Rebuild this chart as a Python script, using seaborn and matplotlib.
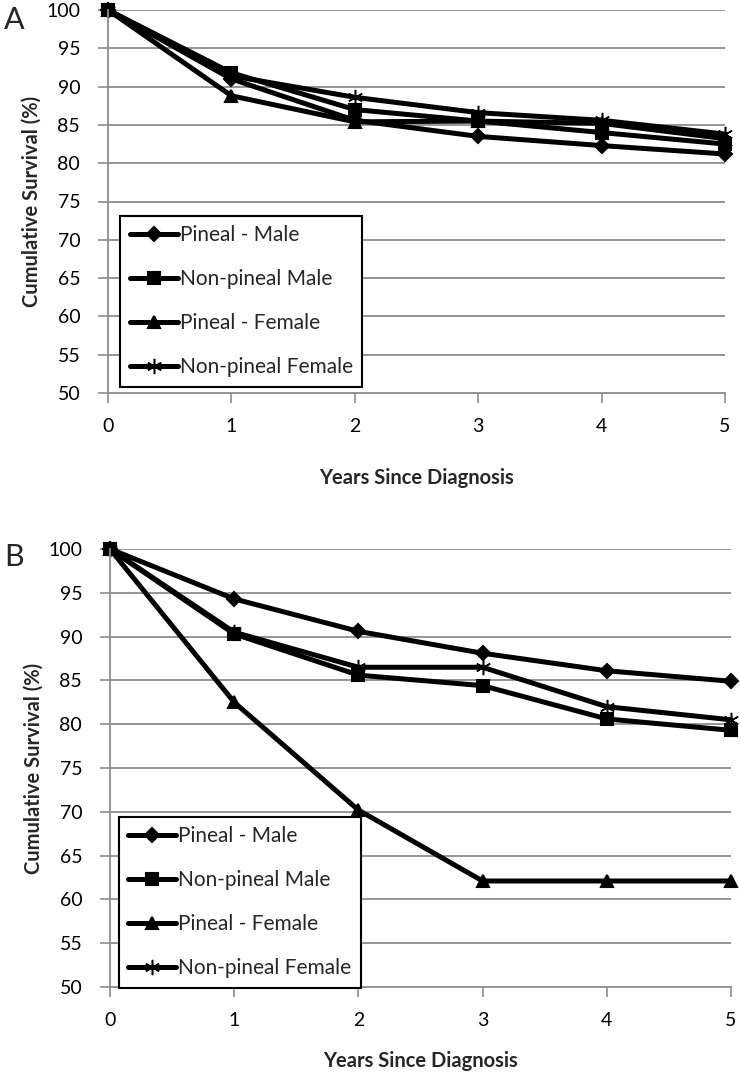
import matplotlib
matplotlib.use("Agg")
import matplotlib.pyplot as plt
import seaborn as sns
import pandas as pd

sns.set_theme(style="white")
plt.rcParams['font.family'] = ['Lato', 'DejaVu Sans']

years = [0, 1, 2, 3, 4, 5]
series_names = ["Pineal - Male", "Non-pineal Male", "Pineal - Female", "Non-pineal Female"]

# Panel A
a_pineal_male = [100, 91.0, 85.6, 83.5, 82.3, 81.2]
a_nonpineal_male = [100, 91.8, 87.0, 85.5, 84.0, 82.5]
a_pineal_female = [100, 88.8, 85.4, 85.5, 85.2, 83.2]
a_nonpineal_female = [100, 91.4, 88.6, 86.6, 85.6, 83.8]

# Panel B
b_pineal_male = [100, 94.3, 90.6, 88.1, 86.1, 84.9]
b_nonpineal_male = [100, 90.3, 85.6, 84.4, 80.6, 79.3]
b_pineal_female = [100, 82.5, 70.2, 62.1, 62.1, 62.1]
b_nonpineal_female = [100, 90.5, 86.5, 86.5, 82.0, 80.5]

y_ticks = [50, 55, 60, 65, 70, 75, 80, 85, 90, 95, 100]
x_ticks = [0, 1, 2, 3, 4, 5]

markers = ["D", "s", "^", (6, 2, 0)]
msizes = [7, 9, 9, 11]

W, H = 740, 1083
fig = plt.figure(figsize=(W / 100, H / 100), dpi=100)

def make_ax(l, r, t, b):
    return fig.add_axes([l / W, 1 - b / H, (r - l) / W, (b - t) / H])

ax1 = make_ax(108, 725, 10, 393)
ax2 = make_ax(110, 731, 549, 987)

grid_col = "#8c8c8c"

def draw(ax, data, legend_anchor, xlabelpad):
    for name, vals, m, ms in zip(series_names, data, markers, msizes):
        df = pd.DataFrame({"Years": years, "Survival": vals})
        sns.lineplot(data=df, x="Years", y="Survival", ax=ax, color="black",
                     linewidth=3.6, marker=m, markersize=ms, markeredgecolor="black",
                     markerfacecolor="black",
                     markeredgewidth=1.5 if m != (6, 2, 0) else 1.1,
                     label=name, clip_on=False)
    ax.set_xlim(0, 5)
    ax.set_ylim(50, 100)
    ax.set_yticks(y_ticks)
    ax.set_xticks(x_ticks)
    for y in y_ticks[1:]:
        ax.axhline(y, color=grid_col, lw=1.3, zorder=0)
    for s in ["top", "right"]:
        ax.spines[s].set_visible(False)
    for s in ["left", "bottom"]:
        ax.spines[s].set_visible(True)
        ax.spines[s].set_color(grid_col)
        ax.spines[s].set_linewidth(1.3)
    ax.tick_params(axis="both", direction="out", length=7, width=1.2, color=grid_col,
                   labelsize=14, labelcolor="black", left=True, bottom=True)
    ax.tick_params(axis="y", pad=13)
    ax.tick_params(axis="x", pad=11)
    ax.set_xlabel("Years Since Diagnosis", fontsize=14.5, fontweight="bold", labelpad=xlabelpad)
    ax.set_ylabel("Cumulative Survival (%)", fontsize=14.5, fontweight="bold", labelpad=3)
    leg = ax.legend(loc="upper left", bbox_to_anchor=legend_anchor, borderaxespad=0,
                    frameon=True, fancybox=False, edgecolor="black", fontsize=15,
                    handlelength=2.3, handletextpad=0.1, labelspacing=1.15,
                    borderpad=0.45, framealpha=1)
    leg.get_frame().set_linewidth(1.5)

draw(ax1, [a_pineal_male, a_nonpineal_male, a_pineal_female, a_nonpineal_female], (0.02, 0.462), 24)
draw(ax2, [b_pineal_male, b_nonpineal_male, b_pineal_female, b_nonpineal_female], (0.0145, 0.388), 16)

fig.text(4 / W, 1 - 20 / H, "A", fontsize=22, va="center", ha="left")
fig.text(4 / W, 1 - 557 / H, "B", fontsize=22, va="center", ha="left")

fig.savefig("out.png", dpi=100, facecolor="white")
